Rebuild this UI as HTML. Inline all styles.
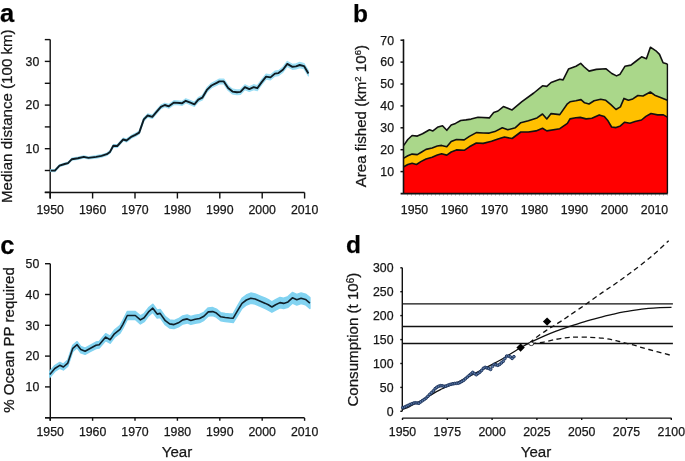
<!DOCTYPE html><html><head><meta charset="utf-8"><style>
html,body{margin:0;padding:0;background:#fff;width:685px;height:461px;overflow:hidden}
svg{display:block;will-change:transform}
text{font-family:"Liberation Sans",sans-serif;fill:#161616;stroke:#161616;stroke-width:0.25px}
.t{font-size:12.3px}
.ti{font-size:15.1px}
.lab{font-size:24.5px;font-weight:bold;fill:#000}
</style></head><body>
<svg width="685" height="461" viewBox="0 0 685 461">
<text class="lab" x="0" y="21.6" style="font-size:25.5px">a</text>
<line x1="50.2" y1="39.5" x2="50.2" y2="198.5" stroke="#111" stroke-width="1.4" fill="none"/>
<line x1="44.8" y1="192.5" x2="304.6" y2="192.5" stroke="#111" stroke-width="1.4" fill="none"/>
<line x1="44.8" y1="192.3" x2="50.2" y2="192.3" stroke="#111" stroke-width="1.4" fill="none"/>
<line x1="44.8" y1="170.5" x2="50.2" y2="170.5" stroke="#111" stroke-width="1.4" fill="none"/>
<line x1="44.8" y1="148.7" x2="50.2" y2="148.7" stroke="#111" stroke-width="1.4" fill="none"/>
<line x1="44.8" y1="126.9" x2="50.2" y2="126.9" stroke="#111" stroke-width="1.4" fill="none"/>
<line x1="44.8" y1="105.1" x2="50.2" y2="105.1" stroke="#111" stroke-width="1.4" fill="none"/>
<line x1="44.8" y1="83.3" x2="50.2" y2="83.3" stroke="#111" stroke-width="1.4" fill="none"/>
<line x1="44.8" y1="61.4" x2="50.2" y2="61.4" stroke="#111" stroke-width="1.4" fill="none"/>
<line x1="44.8" y1="39.6" x2="50.2" y2="39.6" stroke="#111" stroke-width="1.4" fill="none"/>
<text class="t" x="39.3" y="153.0" text-anchor="end">10</text>
<text class="t" x="39.3" y="109.4" text-anchor="end">20</text>
<text class="t" x="39.3" y="65.7" text-anchor="end">30</text>
<line x1="50.2" y1="192.5" x2="50.2" y2="198.5" stroke="#111" stroke-width="1.4" fill="none"/>
<text class="t" x="50.2" y="213.5" text-anchor="middle">1950</text>
<line x1="92.6" y1="192.5" x2="92.6" y2="198.5" stroke="#111" stroke-width="1.4" fill="none"/>
<text class="t" x="92.6" y="213.5" text-anchor="middle">1960</text>
<line x1="135.0" y1="192.5" x2="135.0" y2="198.5" stroke="#111" stroke-width="1.4" fill="none"/>
<text class="t" x="135.0" y="213.5" text-anchor="middle">1970</text>
<line x1="177.4" y1="192.5" x2="177.4" y2="198.5" stroke="#111" stroke-width="1.4" fill="none"/>
<text class="t" x="177.4" y="213.5" text-anchor="middle">1980</text>
<line x1="219.8" y1="192.5" x2="219.8" y2="198.5" stroke="#111" stroke-width="1.4" fill="none"/>
<text class="t" x="219.8" y="213.5" text-anchor="middle">1990</text>
<line x1="262.2" y1="192.5" x2="262.2" y2="198.5" stroke="#111" stroke-width="1.4" fill="none"/>
<text class="t" x="262.2" y="213.5" text-anchor="middle">2000</text>
<line x1="304.6" y1="192.5" x2="304.6" y2="198.5" stroke="#111" stroke-width="1.4" fill="none"/>
<text class="t" x="304.6" y="213.5" text-anchor="middle">2010</text>
<polygon points="50.9,169.7 54.9,169.6 59.5,164.7 64.7,163.0 68.0,162.1 71.9,158.2 77.9,157.1 83.8,155.8 88.4,156.8 96.2,155.7 101.5,154.7 106.8,153.0 110.0,150.7 113.3,144.5 117.3,144.7 123.2,138.2 126.5,139.1 131.7,135.2 135.3,133.4 139.2,131.1 143.8,117.8 147.7,113.9 152.3,115.1 156.3,110.5 160.9,105.1 164.8,103.2 168.8,104.4 174.0,100.7 179.9,101.0 181.9,101.4 185.8,98.8 190.4,100.5 194.4,102.2 198.3,97.6 202.3,95.5 206.9,87.7 211.5,83.2 216.7,80.6 219.4,79.1 223.8,79.0 228.1,85.6 232.5,89.2 236.9,89.9 240.5,89.5 244.9,84.8 249.3,86.7 253.7,84.7 257.3,85.7 261.7,79.6 266.1,74.1 270.5,74.9 274.9,71.1 278.5,70.6 282.9,67.2 287.3,61.4 292.4,64.3 296.0,63.8 299.7,62.4 304.0,63.5 308.4,70.8 308.4,76.0 304.0,68.7 299.7,67.6 296.0,69.0 292.4,69.3 287.3,66.4 282.9,72.2 278.5,75.6 274.9,76.1 270.5,79.9 266.1,79.1 261.7,84.6 257.3,90.7 253.7,89.7 249.3,91.5 244.9,89.6 240.5,94.3 236.9,94.7 232.5,94.0 228.1,90.4 223.8,83.8 219.4,83.7 216.7,85.2 211.5,87.8 206.9,92.1 202.3,99.9 198.3,101.8 194.4,106.4 190.4,104.7 185.8,102.8 181.9,105.4 179.9,105.0 174.0,104.5 168.8,108.2 164.8,106.8 160.9,108.7 156.3,113.9 152.3,118.5 147.7,117.1 143.8,121.0 139.2,134.1 135.3,136.4 131.7,138.0 126.5,141.9 123.2,140.8 117.3,147.3 113.3,147.1 110.0,153.1 106.8,155.4 101.5,157.1 96.2,158.1 88.4,159.0 83.8,158.0 77.9,159.3 71.9,160.2 68.0,164.1 64.7,165.0 59.5,166.7 54.9,171.6 50.9,171.5" fill="#9edff5" stroke="#9edff5" stroke-width="1.2" stroke-linejoin="round"/>
<polyline points="50.9,170.6 54.9,170.6 59.5,165.7 64.7,164.0 68.0,163.1 71.9,159.2 77.9,158.2 83.8,156.9 88.4,157.9 96.2,156.9 101.5,155.9 106.8,154.2 110.0,151.9 113.3,145.8 117.3,146.0 123.2,139.5 126.5,140.5 131.7,136.6 135.3,134.9 139.2,132.6 143.8,119.4 147.7,115.5 152.3,116.8 156.3,112.2 160.9,106.9 164.8,105.0 168.8,106.3 174.0,102.6 179.9,103.0 181.9,103.4 185.8,100.8 190.4,102.6 194.4,104.3 198.3,99.7 202.3,97.7 206.9,89.9 211.5,85.5 216.7,82.9 219.4,81.4 223.8,81.4 228.1,88.0 232.5,91.6 236.9,92.3 240.5,91.9 244.9,87.2 249.3,89.1 253.7,87.2 257.3,88.2 261.7,82.1 266.1,76.6 270.5,77.4 274.9,73.6 278.5,73.1 282.9,69.7 287.3,63.9 292.4,66.8 296.0,66.4 299.7,65.0 304.0,66.1 308.4,73.4" fill="none" stroke="#0e1b22" stroke-width="1.9" stroke-linejoin="round"/>
<text class="ti" transform="translate(12.4,116.2) rotate(-90)" text-anchor="middle">Median distance (100 km)</text>
<text class="lab" x="353" y="21.9">b</text>
<polygon points="403.8,145.4 407.8,139.5 412.1,135.5 417.3,136.1 422.5,133.8 429.5,129.8 432.9,130.9 438.1,126.9 442.5,125.7 446.8,130.3 451.2,125.1 455.5,123.4 460.7,120.5 465.9,119.9 471.1,119.1 478.0,117.3 489.3,117.9 493.7,112.5 498.0,111.0 503.4,106.6 512.1,109.9 521.9,101.6 533.8,93.0 542.5,85.8 546.8,86.4 551.1,82.5 559.8,79.3 563.1,79.9 568.5,69.1 576.0,66.3 580.7,63.4 584.3,67.0 589.1,71.1 596.3,69.4 605.8,68.7 611.8,73.5 616.5,75.9 620.1,74.2 624.9,66.3 630.9,65.1 635.6,61.5 641.6,56.8 646.4,58.7 650.4,47.2 655.9,50.8 659.5,54.4 663.1,62.7 667.4,63.9 667.4,100.2 660.5,97.4 654.7,95.2 650.3,92.0 643.0,96.0 637.9,95.5 632.8,98.9 628.4,100.3 624.0,98.4 620.4,106.9 616.0,109.5 610.9,104.7 605.8,100.3 600.7,99.3 594.1,100.8 589.0,104.0 584.6,102.8 581.0,99.6 575.8,100.8 570.0,101.8 567.4,103.8 559.8,114.6 551.1,113.6 546.8,119.0 542.5,114.0 537.0,117.9 528.4,120.7 520.8,122.7 515.4,127.7 507.8,129.8 502.3,127.7 494.8,131.6 489.3,133.1 483.2,133.0 476.3,132.6 469.4,136.4 464.2,139.9 456.4,139.5 451.2,141.6 446.8,146.8 441.6,145.4 437.3,146.0 432.1,148.0 426.0,149.4 421.7,152.0 417.3,154.6 412.1,154.1 407.8,155.8 403.8,158.1" fill="#aad78a" stroke="none"/>
<polygon points="403.8,158.1 407.8,155.8 412.1,154.1 417.3,154.6 421.7,152.0 426.0,149.4 432.1,148.0 437.3,146.0 441.6,145.4 446.8,146.8 451.2,141.6 456.4,139.5 464.2,139.9 469.4,136.4 476.3,132.6 483.2,133.0 489.3,133.1 494.8,131.6 502.3,127.7 507.8,129.8 515.4,127.7 520.8,122.7 528.4,120.7 537.0,117.9 542.5,114.0 546.8,119.0 551.1,113.6 559.8,114.6 567.4,103.8 570.0,101.8 575.8,100.8 581.0,99.6 584.6,102.8 589.0,104.0 594.1,100.8 600.7,99.3 605.8,100.3 610.9,104.7 616.0,109.5 620.4,106.9 624.0,98.4 628.4,100.3 632.8,98.9 637.9,95.5 643.0,96.0 650.3,92.0 654.7,95.2 660.5,97.4 667.4,100.2 667.4,117.1 663.4,114.9 657.6,114.9 651.0,113.5 645.9,116.4 641.5,120.0 635.0,121.5 629.9,123.2 624.7,122.2 620.4,125.9 616.0,127.6 611.6,127.0 608.0,120.8 604.3,116.4 599.2,114.9 591.9,118.3 586.1,118.9 580.2,117.4 575.8,117.8 570.0,118.9 567.4,123.3 559.8,128.7 546.8,130.9 542.5,128.3 536.0,130.9 528.4,132.0 520.8,132.0 512.1,138.5 504.5,137.0 498.0,139.1 491.5,141.3 483.2,143.4 476.3,143.0 469.4,146.8 464.2,150.3 456.4,149.9 451.2,152.0 446.8,155.1 441.6,153.8 437.3,155.1 432.1,157.2 426.0,159.0 420.8,161.6 416.5,164.5 412.1,163.3 407.8,164.5 403.8,166.8" fill="#ffc000" stroke="none"/>
<polygon points="403.8,166.8 407.8,164.5 412.1,163.3 416.5,164.5 420.8,161.6 426.0,159.0 432.1,157.2 437.3,155.1 441.6,153.8 446.8,155.1 451.2,152.0 456.4,149.9 464.2,150.3 469.4,146.8 476.3,143.0 483.2,143.4 491.5,141.3 498.0,139.1 504.5,137.0 512.1,138.5 520.8,132.0 528.4,132.0 536.0,130.9 542.5,128.3 546.8,130.9 559.8,128.7 567.4,123.3 570.0,118.9 575.8,117.8 580.2,117.4 586.1,118.9 591.9,118.3 599.2,114.9 604.3,116.4 608.0,120.8 611.6,127.0 616.0,127.6 620.4,125.9 624.7,122.2 629.9,123.2 635.0,121.5 641.5,120.0 645.9,116.4 651.0,113.5 657.6,114.9 663.4,114.9 667.4,117.1 667.4,193.6 403.8,193.6" fill="#ff0000" stroke="none"/>
<polyline points="403.8,145.4 407.8,139.5 412.1,135.5 417.3,136.1 422.5,133.8 429.5,129.8 432.9,130.9 438.1,126.9 442.5,125.7 446.8,130.3 451.2,125.1 455.5,123.4 460.7,120.5 465.9,119.9 471.1,119.1 478.0,117.3 489.3,117.9 493.7,112.5 498.0,111.0 503.4,106.6 512.1,109.9 521.9,101.6 533.8,93.0 542.5,85.8 546.8,86.4 551.1,82.5 559.8,79.3 563.1,79.9 568.5,69.1 576.0,66.3 580.7,63.4 584.3,67.0 589.1,71.1 596.3,69.4 605.8,68.7 611.8,73.5 616.5,75.9 620.1,74.2 624.9,66.3 630.9,65.1 635.6,61.5 641.6,56.8 646.4,58.7 650.4,47.2 655.9,50.8 659.5,54.4 663.1,62.7 667.4,63.9" fill="none" stroke="#111" stroke-width="1.6" stroke-linejoin="round"/>
<polyline points="403.8,158.1 407.8,155.8 412.1,154.1 417.3,154.6 421.7,152.0 426.0,149.4 432.1,148.0 437.3,146.0 441.6,145.4 446.8,146.8 451.2,141.6 456.4,139.5 464.2,139.9 469.4,136.4 476.3,132.6 483.2,133.0 489.3,133.1 494.8,131.6 502.3,127.7 507.8,129.8 515.4,127.7 520.8,122.7 528.4,120.7 537.0,117.9 542.5,114.0 546.8,119.0 551.1,113.6 559.8,114.6 567.4,103.8 570.0,101.8 575.8,100.8 581.0,99.6 584.6,102.8 589.0,104.0 594.1,100.8 600.7,99.3 605.8,100.3 610.9,104.7 616.0,109.5 620.4,106.9 624.0,98.4 628.4,100.3 632.8,98.9 637.9,95.5 643.0,96.0 650.3,92.0 654.7,95.2 660.5,97.4 667.4,100.2" fill="none" stroke="#111" stroke-width="1.6" stroke-linejoin="round"/>
<polyline points="403.8,166.8 407.8,164.5 412.1,163.3 416.5,164.5 420.8,161.6 426.0,159.0 432.1,157.2 437.3,155.1 441.6,153.8 446.8,155.1 451.2,152.0 456.4,149.9 464.2,150.3 469.4,146.8 476.3,143.0 483.2,143.4 491.5,141.3 498.0,139.1 504.5,137.0 512.1,138.5 520.8,132.0 528.4,132.0 536.0,130.9 542.5,128.3 546.8,130.9 559.8,128.7 567.4,123.3 570.0,118.9 575.8,117.8 580.2,117.4 586.1,118.9 591.9,118.3 599.2,114.9 604.3,116.4 608.0,120.8 611.6,127.0 616.0,127.6 620.4,125.9 624.7,122.2 629.9,123.2 635.0,121.5 641.5,120.0 645.9,116.4 651.0,113.5 657.6,114.9 663.4,114.9 667.4,117.1" fill="none" stroke="#111" stroke-width="1.6" stroke-linejoin="round"/>
<line x1="667.4" y1="63.9" x2="667.4" y2="193.6" stroke="#111" stroke-width="1.4"/>
<line x1="403.5" y1="39.3" x2="403.5" y2="194" stroke="#111" stroke-width="1.6"/>
<line x1="400.6" y1="193.6" x2="667.6" y2="193.6" stroke="#111" stroke-width="1.7"/>
<line x1="404" y1="194.9" x2="667.6" y2="194.9" stroke="#444" stroke-width="0.8" stroke-dasharray="0.8,3.2" stroke-dashoffset="-3"/>
<line x1="400.5" y1="171.6" x2="403.5" y2="171.6" stroke="#111" stroke-width="1.5"/>
<text class="t" x="394" y="175.9" text-anchor="end">10</text>
<line x1="400.5" y1="149.7" x2="403.5" y2="149.7" stroke="#111" stroke-width="1.5"/>
<text class="t" x="394" y="154.0" text-anchor="end">20</text>
<line x1="400.5" y1="127.8" x2="403.5" y2="127.8" stroke="#111" stroke-width="1.5"/>
<text class="t" x="394" y="132.1" text-anchor="end">30</text>
<line x1="400.5" y1="105.9" x2="403.5" y2="105.9" stroke="#111" stroke-width="1.5"/>
<text class="t" x="394" y="110.2" text-anchor="end">40</text>
<line x1="400.5" y1="84.0" x2="403.5" y2="84.0" stroke="#111" stroke-width="1.5"/>
<text class="t" x="394" y="88.3" text-anchor="end">50</text>
<line x1="400.5" y1="62.1" x2="403.5" y2="62.1" stroke="#111" stroke-width="1.5"/>
<text class="t" x="394" y="66.4" text-anchor="end">60</text>
<line x1="400.5" y1="40.2" x2="403.5" y2="40.2" stroke="#111" stroke-width="1.5"/>
<text class="t" x="394" y="44.5" text-anchor="end">70</text>
<text class="t" x="414.5" y="213.5" text-anchor="middle">1950</text>
<text class="t" x="454.5" y="213.5" text-anchor="middle">1960</text>
<text class="t" x="494.5" y="213.5" text-anchor="middle">1970</text>
<text class="t" x="534.5" y="213.5" text-anchor="middle">1980</text>
<text class="t" x="574.5" y="213.5" text-anchor="middle">1990</text>
<text class="t" x="614.5" y="213.5" text-anchor="middle">2000</text>
<text class="t" x="654.5" y="213.5" text-anchor="middle">2010</text>
<text class="ti" transform="translate(365.5,116.2) rotate(-90)" text-anchor="middle">Area fished (km<tspan font-size="9.5" dy="-4.6">2</tspan><tspan dy="4.6"> 10</tspan><tspan font-size="9.5" dy="-4.6">6</tspan><tspan dy="4.6">)</tspan></text>
<text class="lab" x="0.3" y="253.9" style="font-size:25.5px">c</text>
<line x1="50.3" y1="263.7" x2="50.3" y2="420.8" stroke="#111" stroke-width="1.4" fill="none"/>
<line x1="45" y1="417.7" x2="304.6" y2="417.7" stroke="#111" stroke-width="1.4" fill="none"/>
<line x1="45" y1="417.7" x2="50.3" y2="417.7" stroke="#111" stroke-width="1.4" fill="none"/>
<line x1="45" y1="386.9" x2="50.3" y2="386.9" stroke="#111" stroke-width="1.4" fill="none"/>
<line x1="45" y1="356.1" x2="50.3" y2="356.1" stroke="#111" stroke-width="1.4" fill="none"/>
<line x1="45" y1="325.3" x2="50.3" y2="325.3" stroke="#111" stroke-width="1.4" fill="none"/>
<line x1="45" y1="294.5" x2="50.3" y2="294.5" stroke="#111" stroke-width="1.4" fill="none"/>
<line x1="45" y1="263.7" x2="50.3" y2="263.7" stroke="#111" stroke-width="1.4" fill="none"/>
<text class="t" x="39.3" y="391.2" text-anchor="end">10</text>
<text class="t" x="39.3" y="360.4" text-anchor="end">20</text>
<text class="t" x="39.3" y="329.6" text-anchor="end">30</text>
<text class="t" x="39.3" y="298.8" text-anchor="end">40</text>
<text class="t" x="39.3" y="268.0" text-anchor="end">50</text>
<line x1="50.2" y1="418" x2="50.2" y2="420.8" stroke="#111" stroke-width="1.4" fill="none"/>
<text class="t" x="50.2" y="435.8" text-anchor="middle">1950</text>
<line x1="92.6" y1="418" x2="92.6" y2="420.8" stroke="#111" stroke-width="1.4" fill="none"/>
<text class="t" x="92.6" y="435.8" text-anchor="middle">1960</text>
<line x1="135.0" y1="418" x2="135.0" y2="420.8" stroke="#111" stroke-width="1.4" fill="none"/>
<text class="t" x="135.0" y="435.8" text-anchor="middle">1970</text>
<line x1="177.4" y1="418" x2="177.4" y2="420.8" stroke="#111" stroke-width="1.4" fill="none"/>
<text class="t" x="177.4" y="435.8" text-anchor="middle">1980</text>
<line x1="219.8" y1="418" x2="219.8" y2="420.8" stroke="#111" stroke-width="1.4" fill="none"/>
<text class="t" x="219.8" y="435.8" text-anchor="middle">1990</text>
<line x1="262.2" y1="418" x2="262.2" y2="420.8" stroke="#111" stroke-width="1.4" fill="none"/>
<text class="t" x="262.2" y="435.8" text-anchor="middle">2000</text>
<line x1="304.6" y1="418" x2="304.6" y2="420.8" stroke="#111" stroke-width="1.4" fill="none"/>
<text class="t" x="304.6" y="435.8" text-anchor="middle">2010</text>
<polygon points="49.8,371.6 54.8,365.6 59.8,362.4 63.4,364.1 67.8,360.1 72.8,345.3 77.1,341.7 80.8,346.5 85.1,348.1 90.5,345.2 96.0,342.1 99.2,341.5 105.7,333.7 110.1,336.2 114.4,330.1 120.0,325.6 122.9,320.4 127.3,311.5 135.3,311.5 140.4,315.9 144.1,313.7 148.5,307.9 152.8,304.2 157.2,310.1 160.1,309.4 165.3,316.7 169.6,319.9 174.0,320.6 178.4,318.8 182.8,315.9 187.2,314.9 190.8,316.4 195.2,315.2 199.6,314.5 203.9,312.3 208.3,307.9 212.7,307.6 216.4,309.1 220.8,312.8 225.2,313.5 229.6,314.0 233.2,313.9 237.6,305.9 242.0,298.4 246.4,295.0 250.8,293.1 255.1,293.9 260.3,296.1 265.4,298.3 268.3,299.6 271.9,301.8 275.6,299.6 280.0,297.4 283.6,298.2 288.0,296.6 292.4,292.5 296.8,294.4 301.1,292.9 305.5,294.1 309.9,297.7 309.9,308.5 305.5,304.7 301.1,303.5 296.8,305.0 292.4,303.1 288.0,307.2 283.6,308.6 280.0,307.8 275.6,310.0 271.9,312.2 268.3,310.0 265.4,308.5 260.3,306.3 255.1,304.1 250.8,303.3 246.4,305.0 242.0,308.4 237.6,315.5 233.2,322.5 229.6,322.0 225.2,321.5 220.8,320.8 216.4,317.1 212.7,315.6 208.3,315.9 203.9,320.3 199.6,322.5 195.2,323.2 190.8,324.4 187.2,322.9 182.8,323.9 178.4,326.8 174.0,328.6 169.6,327.9 165.3,324.7 160.1,317.4 157.2,318.1 152.8,312.2 148.5,315.9 144.1,321.7 140.4,323.9 135.3,319.5 127.3,319.5 122.9,328.2 120.0,333.2 114.4,337.5 110.1,343.2 105.7,340.5 99.2,347.9 96.0,348.5 90.5,351.4 85.1,354.3 80.8,352.7 77.1,347.7 72.8,351.3 67.8,366.1 63.4,369.9 59.8,368.2 54.8,371.4 49.8,377.2" fill="#82d3f1" stroke="#82d3f1" stroke-width="1.5" stroke-linejoin="round"/>
<polyline points="49.8,374.4 54.8,368.5 59.8,365.3 63.4,367.0 67.8,363.1 72.8,348.3 77.1,344.7 80.8,349.6 85.1,351.2 90.5,348.3 96.0,345.3 99.2,344.7 105.7,337.1 110.1,339.7 114.4,333.8 120.0,329.4 122.9,324.3 127.3,315.5 135.3,315.5 140.4,319.9 144.1,317.7 148.5,311.9 152.8,308.2 157.2,314.1 160.1,313.4 165.3,320.7 169.6,323.9 174.0,324.6 178.4,322.8 182.8,319.9 187.2,318.9 190.8,320.4 195.2,319.2 199.6,318.5 203.9,316.3 208.3,311.9 212.7,311.6 216.4,313.1 220.8,316.8 225.2,317.5 229.6,318.0 233.2,318.2 237.6,310.7 242.0,303.4 246.4,300.0 250.8,298.2 255.1,299.0 260.3,301.2 265.4,303.4 268.3,304.8 271.9,307.0 275.6,304.8 280.0,302.6 283.6,303.4 288.0,301.9 292.4,297.8 296.8,299.7 301.1,298.2 305.5,299.4 309.9,303.1" fill="none" stroke="#10202a" stroke-width="1.6" stroke-linejoin="round"/>
<text class="ti" transform="translate(13.6,340) rotate(-90)" text-anchor="middle">% Ocean PP required</text>
<text class="ti" x="177" y="457" text-anchor="middle">Year</text>
<text class="lab" x="346.1" y="252.9">d</text>
<line x1="402.3" y1="267.8" x2="402.3" y2="411.3" stroke="#111" stroke-width="1.4" fill="none"/>
<line x1="400.3" y1="411.3" x2="402.3" y2="411.3" stroke="#111" stroke-width="1.4" fill="none"/>
<text class="t" x="393.5" y="415.6" text-anchor="end">0</text>
<line x1="400.3" y1="387.4" x2="402.3" y2="387.4" stroke="#111" stroke-width="1.4" fill="none"/>
<text class="t" x="393.5" y="391.7" text-anchor="end">50</text>
<line x1="400.3" y1="363.5" x2="402.3" y2="363.5" stroke="#111" stroke-width="1.4" fill="none"/>
<text class="t" x="393.5" y="367.8" text-anchor="end">100</text>
<line x1="400.3" y1="339.6" x2="402.3" y2="339.6" stroke="#111" stroke-width="1.4" fill="none"/>
<text class="t" x="393.5" y="343.9" text-anchor="end">150</text>
<line x1="400.3" y1="315.6" x2="402.3" y2="315.6" stroke="#111" stroke-width="1.4" fill="none"/>
<text class="t" x="393.5" y="319.9" text-anchor="end">200</text>
<line x1="400.3" y1="291.7" x2="402.3" y2="291.7" stroke="#111" stroke-width="1.4" fill="none"/>
<text class="t" x="393.5" y="296.0" text-anchor="end">250</text>
<line x1="400.3" y1="267.8" x2="402.3" y2="267.8" stroke="#111" stroke-width="1.4" fill="none"/>
<text class="t" x="393.5" y="272.1" text-anchor="end">300</text>
<line x1="402.3" y1="418.1" x2="671.5" y2="418.1" stroke="#111" stroke-width="1.4" fill="none"/>
<line x1="402.5" y1="418" x2="402.5" y2="420" stroke="#111" stroke-width="1.4" fill="none"/>
<text class="t" x="402.5" y="435.8" text-anchor="middle">1950</text>
<line x1="447.3" y1="418" x2="447.3" y2="420" stroke="#111" stroke-width="1.4" fill="none"/>
<text class="t" x="447.3" y="435.8" text-anchor="middle">1975</text>
<line x1="492.1" y1="418" x2="492.1" y2="420" stroke="#111" stroke-width="1.4" fill="none"/>
<text class="t" x="492.1" y="435.8" text-anchor="middle">2000</text>
<line x1="536.9" y1="418" x2="536.9" y2="420" stroke="#111" stroke-width="1.4" fill="none"/>
<text class="t" x="536.9" y="435.8" text-anchor="middle">2025</text>
<line x1="581.7" y1="418" x2="581.7" y2="420" stroke="#111" stroke-width="1.4" fill="none"/>
<text class="t" x="581.7" y="435.8" text-anchor="middle">2050</text>
<line x1="626.5" y1="418" x2="626.5" y2="420" stroke="#111" stroke-width="1.4" fill="none"/>
<text class="t" x="626.5" y="435.8" text-anchor="middle">2075</text>
<line x1="671.3" y1="418" x2="671.3" y2="420" stroke="#111" stroke-width="1.4" fill="none"/>
<text class="t" x="671.3" y="435.8" text-anchor="middle">2100</text>
<line x1="402.3" y1="303.9" x2="672.9" y2="303.9" stroke="#111" stroke-width="1.3"/>
<line x1="402.3" y1="326.5" x2="672.9" y2="326.5" stroke="#111" stroke-width="1.3"/>
<line x1="402.3" y1="343.5" x2="672.9" y2="343.5" stroke="#111" stroke-width="1.3"/>
<path d="M529.4,342.8 C530.7,341.8 534.4,338.7 537.2,336.7 C540.0,334.7 543.4,332.3 546.0,330.6 C548.6,328.9 550.5,327.8 552.8,326.4 C555.1,324.9 557.3,323.7 560.0,321.9 C562.7,320.1 564.8,318.6 569.1,315.7 C573.4,312.8 580.2,308.2 585.8,304.3 C591.4,300.4 597.5,295.9 602.5,292.4 C607.5,288.9 611.1,286.8 616.0,283.3 C620.9,279.9 626.0,276.2 632.0,271.7 C638.0,267.2 645.6,261.4 651.7,256.2 C657.8,251.0 665.9,243.3 668.7,240.7" fill="none" stroke="#111" stroke-width="1.3" stroke-dasharray="5,3.5"/>
<path d="M531.3,343.8 C533.4,343.5 539.9,342.8 544.0,342.1 C548.1,341.4 552.2,340.1 555.7,339.4 C559.2,338.7 561.8,338.3 565.0,337.9 C568.2,337.5 571.0,337.2 575.2,337.1 C579.4,337.0 585.9,337.1 590.4,337.3 C594.9,337.5 599.0,337.8 602.5,338.2 C606.0,338.6 608.8,339.1 611.6,339.7 C614.4,340.2 615.8,340.7 619.2,341.5 C622.6,342.3 627.0,343.4 632.0,344.7 C637.0,346.0 642.5,347.8 648.9,349.5 C655.2,351.2 666.6,354.2 670.1,355.1" fill="none" stroke="#111" stroke-width="1.3" stroke-dasharray="5,3.5"/>
<path d="M403.0,409.3 C404.2,408.8 407.5,407.5 410.0,406.3 C412.5,405.1 414.8,404.0 418.0,402.3 C421.2,400.6 425.6,398.0 429.3,395.9 C433.0,393.8 434.9,392.3 440.0,389.8 C445.1,387.3 453.3,384.2 460.0,381.0 C466.7,377.8 473.3,374.3 480.0,370.8 C486.7,367.3 495.0,362.9 500.0,360.2 C505.0,357.4 506.3,356.4 509.9,354.3 C513.5,352.2 517.5,349.5 521.4,347.3 C525.2,345.1 529.1,343.1 533.0,341.2 C536.9,339.3 540.6,337.6 544.5,335.9 C548.4,334.2 552.2,332.7 556.1,331.2 C560.0,329.7 563.8,328.4 567.6,327.1 C571.5,325.8 575.4,324.5 579.2,323.3 C583.1,322.1 586.9,321.0 590.7,319.9 C594.5,318.8 598.4,317.8 602.2,316.8 C606.1,315.8 609.9,315.0 613.8,314.1 C617.6,313.2 621.4,312.4 625.3,311.7 C629.1,311.0 633.0,310.4 636.9,309.8 C640.8,309.2 644.5,308.8 648.4,308.4 C652.2,308.0 656.1,307.8 660.0,307.6 C663.9,307.4 669.6,307.4 671.5,307.4" fill="none" stroke="#111" stroke-width="1.3"/>
<g fill="#5f7fae" stroke="#1f355c" stroke-width="1"><circle cx="402.8" cy="407.6" r="1.35"/><circle cx="404.6" cy="407.0" r="1.35"/><circle cx="406.4" cy="406.2" r="1.35"/><circle cx="408.2" cy="405.4" r="1.35"/><circle cx="410.0" cy="404.5" r="1.35"/><circle cx="411.8" cy="403.8" r="1.35"/><circle cx="413.6" cy="403.1" r="1.35"/><circle cx="415.3" cy="402.8" r="1.35"/><circle cx="417.1" cy="403.0" r="1.35"/><circle cx="418.9" cy="403.2" r="1.35"/><circle cx="420.7" cy="401.9" r="1.35"/><circle cx="422.5" cy="400.6" r="1.35"/><circle cx="424.3" cy="399.4" r="1.35"/><circle cx="426.1" cy="398.1" r="1.35"/><circle cx="427.9" cy="396.3" r="1.35"/><circle cx="429.7" cy="394.4" r="1.35"/><circle cx="431.5" cy="392.7" r="1.35"/><circle cx="433.3" cy="390.9" r="1.35"/><circle cx="435.1" cy="388.7" r="1.35"/><circle cx="436.8" cy="387.3" r="1.35"/><circle cx="438.6" cy="386.3" r="1.35"/><circle cx="440.4" cy="385.7" r="1.35"/><circle cx="442.2" cy="385.8" r="1.35"/><circle cx="444.0" cy="386.3" r="1.35"/><circle cx="445.8" cy="386.1" r="1.35"/><circle cx="447.6" cy="385.4" r="1.35"/><circle cx="449.4" cy="384.7" r="1.35"/><circle cx="451.2" cy="384.2" r="1.35"/><circle cx="453.0" cy="383.8" r="1.35"/><circle cx="454.8" cy="383.5" r="1.35"/><circle cx="456.6" cy="383.3" r="1.35"/><circle cx="458.4" cy="383.2" r="1.35"/><circle cx="460.1" cy="382.4" r="1.35"/><circle cx="461.9" cy="381.4" r="1.35"/><circle cx="463.7" cy="380.3" r="1.35"/><circle cx="465.5" cy="378.7" r="1.35"/><circle cx="467.3" cy="377.1" r="1.35"/><circle cx="469.1" cy="375.5" r="1.35"/><circle cx="470.9" cy="374.0" r="1.35"/><circle cx="472.7" cy="372.4" r="1.35"/><circle cx="474.5" cy="373.6" r="1.35"/><circle cx="476.3" cy="374.7" r="1.35"/><circle cx="478.1" cy="373.4" r="1.35"/><circle cx="479.9" cy="372.1" r="1.35"/><circle cx="481.6" cy="370.4" r="1.35"/><circle cx="483.4" cy="368.3" r="1.35"/><circle cx="485.2" cy="367.4" r="1.35"/><circle cx="487.0" cy="367.9" r="1.35"/><circle cx="488.8" cy="368.4" r="1.35"/><circle cx="490.6" cy="369.4" r="1.35"/><circle cx="492.4" cy="366.5" r="1.35"/><circle cx="494.2" cy="364.4" r="1.35"/><circle cx="496.0" cy="364.8" r="1.35"/><circle cx="497.8" cy="365.3" r="1.35"/><circle cx="499.6" cy="364.4" r="1.35"/><circle cx="501.4" cy="362.9" r="1.35"/><circle cx="503.2" cy="361.3" r="1.35"/><circle cx="504.9" cy="358.6" r="1.35"/><circle cx="506.7" cy="356.1" r="1.35"/><circle cx="508.5" cy="356.1" r="1.35"/><circle cx="510.3" cy="356.9" r="1.35"/><circle cx="512.1" cy="358.4" r="1.35"/><circle cx="513.9" cy="356.7" r="1.35"/></g>
<polygon points="520.6,343.40000000000003 524.8000000000001,347.6 520.6,351.8 516.4,347.6" fill="#000"/>
<polygon points="547.1,317.40000000000003 551.3000000000001,321.6 547.1,325.8 542.9,321.6" fill="#000"/>
<ellipse cx="531.3" cy="343.8" rx="2.4" ry="1.8" fill="#fff" stroke="#111" stroke-width="0.8"/>
<text class="ti" transform="translate(358.4,339.6) rotate(-90)" text-anchor="middle">Consumption (t 10<tspan font-size="10" dy="-4">6</tspan><tspan dy="4">)</tspan></text>
<text class="ti" x="536" y="457" text-anchor="middle">Year</text>
</svg></body></html>
